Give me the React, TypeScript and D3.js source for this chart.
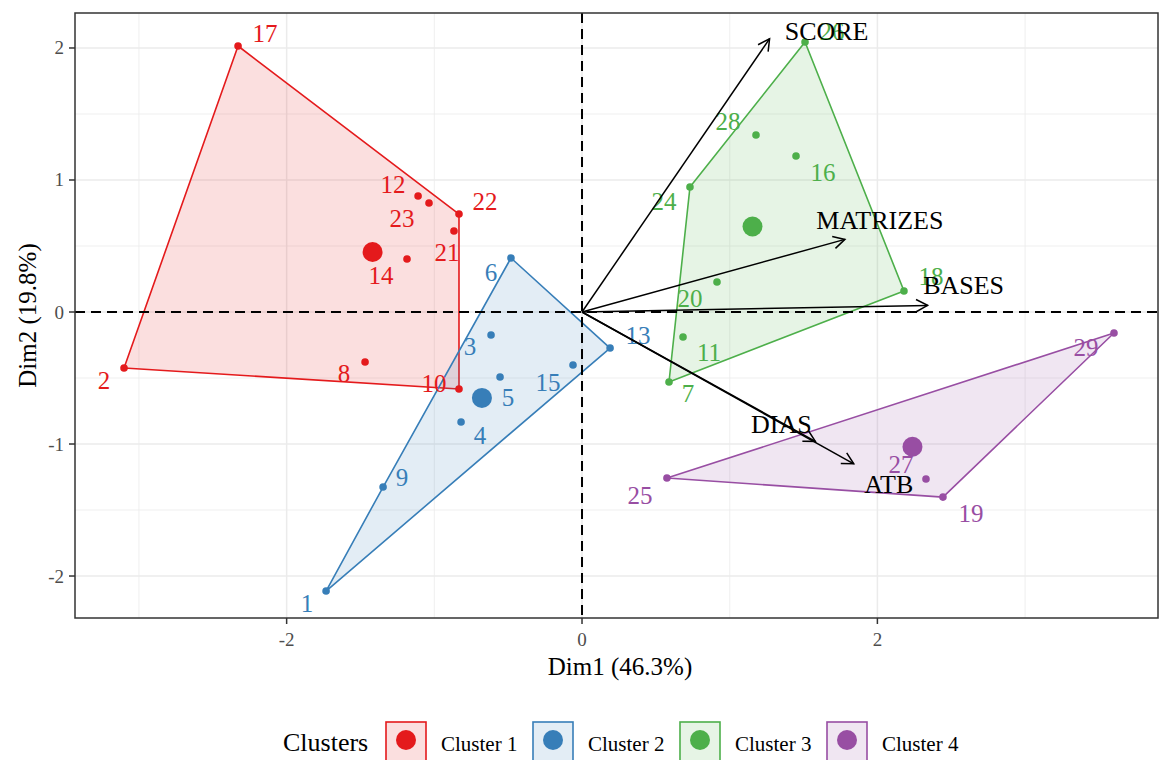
import React from "react";
import * as d3 from "d3";

// ---------- data ----------
const clusterNames = ["Cluster 1", "Cluster 2", "Cluster 3", "Cluster 4"];
const clusterColors = ["#E41A1C", "#377EB8", "#4DAF4A", "#984EA3"];

const obsIds = [
  "17", "12", "23", "22", "21", "14", "2", "8", "10",
  "6", "13", "1", "9", "3", "5", "4", "15",
  "26", "28", "16", "24", "18", "20", "11", "7",
  "29", "25", "19", "27",
];
const obsDim1 = [
  -2.329, -1.110, -1.036, -0.833, -0.867, -1.185, -3.101, -1.469, -0.833,
  -0.481, 0.190, -1.733, -1.347, -0.616, -0.555, -0.819, -0.061,
  1.510, 1.178, 1.449, 0.731, 2.180, 0.914, 0.684, 0.589,
  3.602, 0.575, 2.444, 2.329,
];
const obsDim2 = [
  2.015, 0.879, 0.826, 0.742, 0.614, 0.402, -0.424, -0.379, -0.583,
  0.409, -0.273, -2.114, -1.326, -0.174, -0.492, -0.833, -0.402,
  2.045, 1.341, 1.182, 0.947, 0.159, 0.227, -0.189, -0.530,
  -0.159, -1.258, -1.402, -1.265,
];
const obsCluster = [
  0, 0, 0, 0, 0, 0, 0, 0, 0,
  1, 1, 1, 1, 1, 1, 1, 1,
  2, 2, 2, 2, 2, 2, 2, 2,
  3, 3, 3, 3,
];

const varNames = ["SCORE", "MATRIZES", "BASES", "DIAS", "ATB"];
const varDim1 = [1.27, 1.78, 2.34, 1.58, 1.84];
const varDim2 = [2.07, 0.55, 0.05, -0.98, -1.15];

const xTicks = [-2, 0, 2];
const yTicks = [-2, -1, 0, 1, 2];
const xMinor = [-3, -1, 1, 3];
const yMinor = [-1.5, -0.5, 0.5, 1.5];

const xTitle = "Dim1 (46.3%)";
const yTitle = "Dim2 (19.8%)";
const legendTitle = "Clusters";

// ---------- layout (label offsets in px, repel-like) ----------
const obsLabelOffset: Record<string, [number, number]> = {
  "17": [27, -13], "12": [-25, -11], "23": [-27, 16], "22": [26, -13], "21": [-7, 22],
  "14": [-26, 17], "2": [-20, 13], "8": [-21, 11], "10": [-25, -5],
  "6": [-20, 14], "13": [28, -13], "1": [-19, 12], "9": [19, -10], "3": [-21, 12],
  "5": [8, 21], "4": [19, 14], "15": [-25, 17],
  "26": [27, -11], "28": [-28, -13], "16": [27, 17], "24": [-26, 15], "18": [27, -15],
  "20": [-27, 16], "11": [26, 16], "7": [19, 12],
  "29": [-28, 15], "25": [-27, 17], "19": [28, 16], "27": [-25, -14],
};
const varLabelOffset: Record<string, [number, number]> = {
  SCORE: [57, -7], MATRIZES: [35, -19], BASES: [36, -20], DIAS: [-34, -17], ATB: [35, 21],
};

const FONT = "'Liberation Serif', 'DejaVu Serif', serif";

export default function App() {
  const W = 1164, H = 760;
  const panel = { left: 75, right: 1158, top: 13, bottom: 618 };
  const x = d3.scaleLinear().domain([-3.433, 3.9]).range([panel.left, panel.right]);
  const y = d3.scaleLinear().domain([-2.318, 2.265]).range([panel.bottom, panel.top]);

  const pts = obsIds.map((id, i) => ({
    id, d1: obsDim1[i], d2: obsDim2[i], c: obsCluster[i],
  }));

  const clusters = clusterNames.map((name, c) => {
    const members = pts.filter((p) => p.c === c);
    const coords = members.map((p) => [x(p.d1), y(p.d2)] as [number, number]);
    const hull = d3.polygonHull(coords) || coords;
    const cx = d3.mean(members, (p) => p.d1)!;
    const cy = d3.mean(members, (p) => p.d2)!;
    return { name, c, hull, cx, cy, color: clusterColors[c] };
  });

  const line = d3.line();
  const ox = x(0), oy = y(0);
  const headLen = 13, headAng = (28 * Math.PI) / 180;

  const legendKeysX = [386, 533, 680, 827];

  return (
    <div style={{ position: "absolute", left: 0, top: 0 }}>
      <svg width={W} height={H} style={{ display: "block", background: "#fff" }}>
        <defs>
          <clipPath id="panelClip">
            <rect x={panel.left} y={panel.top} width={panel.right - panel.left} height={panel.bottom - panel.top} />
          </clipPath>
        </defs>
        <rect x={0} y={0} width={W} height={H} fill="#fff" />
        {/* grid */}
        <g>
          {xMinor.map((v) => (
            <line key={"xm" + v} x1={x(v)} x2={x(v)} y1={panel.top} y2={panel.bottom} stroke="#EBEBEB" strokeWidth={0.8} />
          ))}
          {yMinor.map((v) => (
            <line key={"ym" + v} y1={y(v)} y2={y(v)} x1={panel.left} x2={panel.right} stroke="#EBEBEB" strokeWidth={0.8} />
          ))}
          {xTicks.map((v) => (
            <line key={"xg" + v} x1={x(v)} x2={x(v)} y1={panel.top} y2={panel.bottom} stroke="#EBEBEB" strokeWidth={1.5} />
          ))}
          {yTicks.map((v) => (
            <line key={"yg" + v} y1={y(v)} y2={y(v)} x1={panel.left} x2={panel.right} stroke="#EBEBEB" strokeWidth={1.5} />
          ))}
        </g>
        <g clipPath="url(#panelClip)">
          {/* hulls */}
          {clusters.map((cl) => (
            <path
              key={"h" + cl.c}
              d={line(cl.hull as [number, number][])! + "Z"}
              fill={cl.color}
              fillOpacity={0.14}
              stroke={cl.color}
              strokeWidth={1.6}
              strokeLinejoin="round"
            />
          ))}
          {/* reference lines */}
          <line x1={panel.left} x2={panel.right} y1={oy} y2={oy} stroke="#000" strokeWidth={2} strokeDasharray="10,6" />
          <line x1={ox} x2={ox} y1={panel.top} y2={panel.bottom} stroke="#000" strokeWidth={2} strokeDasharray="10,6" />
          {/* points */}
          {pts.map((p) => (
            <circle key={"p" + p.id} cx={x(p.d1)} cy={y(p.d2)} r={3.8} fill={clusterColors[p.c]} />
          ))}
          {clusters.map((cl) => (
            <circle key={"c" + cl.c} cx={x(cl.cx)} cy={y(cl.cy)} r={10} fill={cl.color} />
          ))}
          {/* point labels */}
          {pts.map((p) => {
            const off = obsLabelOffset[p.id] || [15, -12];
            return (
              <text
                key={"t" + p.id}
                x={x(p.d1) + off[0]}
                y={y(p.d2) + off[1]}
                textAnchor="middle"
                dominantBaseline="central"
                fontFamily={FONT}
                fontSize={25}
                fill={clusterColors[p.c]}
              >
                {p.id}
              </text>
            );
          })}
          {/* variable arrows */}
          {varNames.map((v, i) => {
            const tx = x(varDim1[i]), ty = y(varDim2[i]);
            const ang = Math.atan2(ty - oy, tx - ox);
            const a1 = ang + Math.PI - headAng, a2 = ang + Math.PI + headAng;
            const h1: [number, number] = [tx + headLen * Math.cos(a1), ty + headLen * Math.sin(a1)];
            const h2: [number, number] = [tx + headLen * Math.cos(a2), ty + headLen * Math.sin(a2)];
            return (
              <g key={"v" + v}>
                <line x1={ox} y1={oy} x2={tx} y2={ty} stroke="#000" strokeWidth={1.5} />
                <path d={line([h1, [tx, ty], h2])!} fill="none" stroke="#000" strokeWidth={1.5} />
              </g>
            );
          })}
          {varNames.map((v, i) => {
            const off = varLabelOffset[v];
            return (
              <text
                key={"vl" + v}
                x={x(varDim1[i]) + off[0]}
                y={y(varDim2[i]) + off[1]}
                textAnchor="middle"
                dominantBaseline="central"
                fontFamily={FONT}
                fontSize={26}
                fill="#000"
              >
                {v}
              </text>
            );
          })}
        </g>
        {/* panel border */}
        <rect
          x={panel.left}
          y={panel.top}
          width={panel.right - panel.left}
          height={panel.bottom - panel.top}
          fill="none"
          stroke="#333333"
          strokeWidth={1.5}
        />
        {/* axes ticks */}
        {xTicks.map((v) => (
          <g key={"xt" + v}>
            <line x1={x(v)} x2={x(v)} y1={panel.bottom} y2={panel.bottom + 6} stroke="#333333" strokeWidth={1.5} />
            <text x={x(v)} y={panel.bottom + 21} textAnchor="middle" dominantBaseline="central" fontFamily={FONT} fontSize={19} fill="#4D4D4D">
              {v < 0 ? "-" + Math.abs(v) : String(v)}
            </text>
          </g>
        ))}
        {yTicks.map((v) => (
          <g key={"yt" + v}>
            <line x1={panel.left - 6} x2={panel.left} y1={y(v)} y2={y(v)} stroke="#333333" strokeWidth={1.5} />
            <text x={panel.left - 11} y={y(v)} textAnchor="end" dominantBaseline="central" fontFamily={FONT} fontSize={19} fill="#4D4D4D">
              {v < 0 ? "-" + Math.abs(v) : String(v)}
            </text>
          </g>
        ))}
        {/* axis titles */}
        <text x={620} y={666} textAnchor="middle" dominantBaseline="central" fontFamily={FONT} fontSize={25} fill="#000">
          {xTitle}
        </text>
        <text
          transform={`translate(27, ${(panel.top + panel.bottom) / 2}) rotate(-90)`}
          textAnchor="middle"
          dominantBaseline="central"
          fontFamily={FONT}
          fontSize={25}
          fill="#000"
        >
          {yTitle}
        </text>
        {/* legend */}
        <text x={283} y={751} fontFamily={FONT} fontSize={26} fill="#000">
          {legendTitle}
        </text>
        {clusterNames.map((n, i) => (
          <g key={"lg" + i}>
            <rect x={legendKeysX[i]} y={722} width={40} height={40} fill={clusterColors[i]} fillOpacity={0.14} stroke={clusterColors[i]} strokeWidth={1.6} />
            <circle cx={legendKeysX[i] + 20} cy={740} r={10} fill={clusterColors[i]} />
            <text x={legendKeysX[i] + 55} y={751} fontFamily={FONT} fontSize={21} fill="#000">
              {n}
            </text>
          </g>
        ))}
      </svg>
    </div>
  );
}
